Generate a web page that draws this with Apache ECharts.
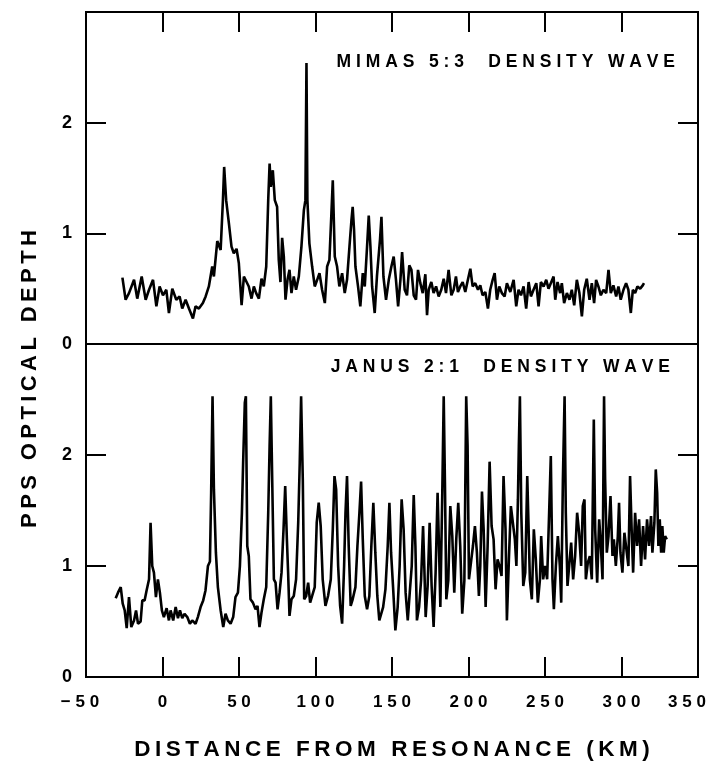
<!DOCTYPE html>
<html><head><meta charset="utf-8">
<script src="https://cdn.jsdelivr.net/npm/echarts@6/dist/echarts.min.js"></script>
<style>html,body{margin:0;padding:0;background:#fff}#c{width:715px;height:762px}</style>
</head><body><div id="c"></div>
<script>
// ---- data (km from resonance, PPS optical depth) ----
const mimasKm = [-26.2,-24.1,-21.9,-18.6,-16.5,-13.6,-11.0,-8.8,-6.2,-4.0,-1.9,0.3,2.5,4.2,6.4,9.0,11.2,12.9,15.1,17.3,19.9,21.6,23.8,26.4,28.2,30.3,32.5,33.6,35.8,38.0,39.5,40.3,41.6,43.4,45.1,46.6,48.4,49.9,51.7,53.2,56.4,58.2,59.7,61.2,63.0,64.7,66.2,67.8,69.1,70.0,70.8,72.1,73.4,74.9,76.0,77.1,78.2,79.3,80.4,81.7,83.0,84.3,85.8,87.3,89.1,90.8,92.4,93.4,94.1,94.7,96.0,97.8,99.5,101.1,102.6,104.3,106.1,107.6,109.1,110.4,111.3,112.6,114.1,115.6,117.4,119.1,120.6,122.2,123.5,124.3,125.2,126.1,127.8,129.3,130.9,132.2,133.7,134.8,135.9,137.0,138.7,140.2,142.2,143.1,144.4,146.1,147.9,149.6,151.1,152.6,154.0,155.5,156.6,158.3,159.8,161.3,162.7,164.2,165.7,167.0,168.5,170.1,171.8,172.9,174.0,175.7,177.2,178.8,180.5,182.2,183.8,185.3,187.0,188.8,190.3,191.8,193.1,194.6,196.2,197.9,199.6,201.2,202.7,204.4,206.2,207.7,209.2,211.0,212.7,214.2,215.8,217.1,218.6,220.1,221.8,223.6,225.1,227.3,229.5,231.2,232.7,234.3,236.0,237.7,239.3,240.8,242.5,244.3,245.8,247.3,249.1,250.8,252.3,253.8,255.6,256.7,258.2,259.9,261.0,262.5,264.3,266.0,267.5,269.1,270.8,272.5,274.1,275.6,277.3,279.1,280.6,282.1,283.4,284.9,286.5,288.2,290.0,291.5,293.0,294.7,296.5,298.0,299.5,301.3,303.0,304.5,306.1,307.4,308.9,310.4,312.2,313.9,314.7];
const mimasTau = [0.60,0.40,0.46,0.58,0.41,0.61,0.40,0.49,0.58,0.34,0.52,0.44,0.49,0.28,0.50,0.40,0.43,0.32,0.40,0.32,0.23,0.34,0.32,0.37,0.43,0.52,0.70,0.61,0.93,0.85,1.30,1.60,1.30,1.09,0.88,0.82,0.86,0.73,0.35,0.61,0.52,0.41,0.52,0.46,0.41,0.59,0.52,0.70,1.30,1.63,1.42,1.57,1.30,1.24,0.76,0.56,0.96,0.79,0.40,0.58,0.67,0.46,0.61,0.49,0.61,0.88,1.21,1.30,2.54,1.30,0.91,0.70,0.52,0.58,0.64,0.49,0.37,0.70,0.76,1.18,1.48,0.79,0.70,0.52,0.64,0.46,0.58,0.88,1.12,1.24,1.03,0.70,0.52,0.34,0.64,0.52,0.88,1.16,0.88,0.52,0.28,0.62,0.95,1.15,0.61,0.40,0.58,0.70,0.79,0.58,0.34,0.58,0.83,0.49,0.44,0.71,0.67,0.44,0.40,0.67,0.55,0.46,0.63,0.26,0.49,0.56,0.46,0.52,0.43,0.49,0.59,0.46,0.67,0.44,0.49,0.61,0.47,0.52,0.56,0.47,0.58,0.68,0.52,0.55,0.49,0.53,0.44,0.47,0.32,0.49,0.58,0.64,0.40,0.52,0.46,0.43,0.55,0.47,0.58,0.34,0.49,0.44,0.52,0.32,0.56,0.43,0.49,0.55,0.34,0.56,0.52,0.58,0.50,0.55,0.61,0.40,0.56,0.46,0.55,0.37,0.46,0.40,0.49,0.35,0.58,0.46,0.25,0.49,0.59,0.40,0.55,0.37,0.58,0.52,0.44,0.49,0.46,0.67,0.46,0.53,0.43,0.52,0.40,0.49,0.55,0.49,0.28,0.49,0.46,0.52,0.50,0.53,0.55];

const janusKm = [-30.6,-29.1,-27.3,-26.0,-24.7,-23.4,-21.9,-20.4,-18.6,-17.3,-16.0,-14.3,-13.2,-11.7,-10.4,-8.8,-7.8,-6.7,-5.6,-4.3,-3.0,-1.7,-0.4,0.9,2.7,4.2,5.3,7.0,8.6,10.1,11.4,12.9,14.4,16.2,17.9,19.4,21.6,23.1,24.9,26.6,28.1,29.7,31.0,31.8,32.7,33.6,34.9,36.2,38.0,39.7,41.2,42.7,44.5,46.2,47.7,49.3,50.6,51.9,52.7,53.8,54.5,55.4,56.4,57.5,59.1,60.8,62.1,63.4,64.7,66.2,67.8,69.1,70.0,70.8,71.7,72.8,73.9,75.2,76.5,77.8,79.1,80.2,81.3,82.1,83.0,84.3,85.8,87.3,88.7,89.7,90.6,91.7,92.6,93.9,95.2,96.5,97.8,99.5,100.8,102.1,103.4,104.7,106.5,108.2,110.0,111.3,112.4,113.5,114.8,116.1,117.4,118.7,119.6,120.6,121.7,123.0,124.3,126.1,127.4,128.7,129.8,130.9,132.2,133.7,135.2,136.5,137.8,139.1,140.4,141.7,144.2,145.7,147.2,148.3,149.4,150.7,152.2,153.7,155.0,156.3,157.6,158.9,160.3,161.6,162.9,164.2,165.3,166.3,167.7,169.0,170.3,171.1,172.0,173.3,174.6,175.9,177.2,178.5,179.8,180.7,181.6,182.9,183.8,184.6,185.5,186.8,188.1,189.4,190.7,192.0,193.3,194.6,195.9,197.3,198.5,199.4,200.3,201.6,202.9,204.2,205.5,206.8,207.7,208.8,209.9,211.2,212.5,213.8,215.1,216.4,217.7,219.0,220.3,221.6,222.9,224.2,225.1,226.4,227.7,229.0,230.3,231.3,232.3,232.9,233.6,234.5,235.8,237.1,238.4,239.3,240.1,241.4,242.7,244.0,245.3,246.7,247.5,248.8,250.1,251.4,252.7,253.8,254.9,255.8,257.1,258.4,259.7,260.6,261.7,262.8,263.6,264.7,265.8,267.1,268.4,269.7,271.0,272.3,273.6,274.7,275.8,276.7,278.0,279.3,280.6,281.9,282.8,284.1,285.4,286.3,287.6,288.6,289.3,290.4,291.5,292.8,294.1,295.0,296.3,297.6,298.4,299.3,300.6,301.9,303.2,304.5,305.6,306.7,307.6,308.9,310.2,311.5,312.8,314.1,315.4,316.7,318.0,319.3,320.2,321.5,322.4,323.3,324.1,325.0,325.9,326.7,327.6,328.5,329.6];
const janusTau = [0.71,0.76,0.81,0.66,0.60,0.44,0.72,0.45,0.51,0.60,0.48,0.50,0.69,0.69,0.78,0.88,1.39,1.00,0.94,0.72,0.88,0.76,0.60,0.54,0.62,0.51,0.60,0.51,0.63,0.53,0.60,0.53,0.57,0.54,0.48,0.51,0.48,0.54,0.63,0.69,0.78,1.00,1.04,1.66,2.53,1.69,1.12,0.81,0.60,0.45,0.57,0.51,0.48,0.54,0.72,0.76,1.00,1.48,1.93,2.47,2.53,1.18,1.09,0.70,0.67,0.61,0.64,0.45,0.58,0.70,0.81,1.48,2.08,2.53,1.78,0.88,0.85,0.61,0.76,0.94,1.33,1.72,1.24,0.94,0.55,0.70,0.73,0.88,1.39,1.93,2.53,1.78,0.70,0.73,0.85,0.67,0.73,0.81,1.39,1.57,1.36,0.88,0.64,0.73,0.88,1.33,1.81,1.69,1.00,0.64,0.48,1.00,1.48,1.81,1.18,0.64,0.70,0.81,1.18,1.48,1.76,1.24,0.73,0.61,0.73,1.18,1.57,1.12,0.73,0.51,0.63,0.79,1.18,1.57,1.12,0.81,0.42,0.63,1.00,1.60,1.33,0.76,0.51,0.76,1.00,1.64,1.18,0.51,0.63,0.87,1.36,1.00,0.54,0.82,1.39,0.82,0.45,0.94,1.66,1.18,0.63,1.69,2.53,1.75,0.70,0.87,1.54,1.27,0.76,1.24,1.57,1.18,0.57,0.87,2.53,2.08,0.88,1.03,1.18,1.36,1.12,0.73,1.00,1.67,1.33,0.63,1.18,1.94,1.36,1.24,0.79,1.06,1.00,0.91,1.81,1.33,0.51,1.06,1.54,1.54,1.24,1.00,1.60,2.08,2.53,1.48,0.82,0.94,1.81,1.33,0.88,0.70,1.33,1.06,0.67,0.88,1.27,0.88,1.00,0.88,1.48,1.99,0.88,0.61,1.00,1.27,1.00,0.67,1.78,2.53,1.48,0.82,1.00,1.21,0.88,1.09,1.48,1.30,1.00,1.54,1.60,0.88,1.03,1.09,0.88,2.32,1.33,0.85,1.42,1.24,0.88,2.53,1.78,1.12,1.27,1.63,1.09,1.24,1.00,1.27,1.57,1.12,0.94,1.30,1.15,1.00,1.81,1.30,0.94,1.48,1.18,1.42,1.00,1.36,1.06,1.42,1.18,1.45,1.12,1.39,1.87,1.66,1.18,1.42,1.12,1.36,1.12,1.27,1.24];

const xTickValues = [-50,0,50,100,150,200,250,300,350];
const xTickLabels = ['\u221250','0','50','100','150','200','250','300','350'];
const yTickValues = [0,1,2,3];
const yTickLabels = ['0','1','2',''];
const panelTitles = ['MIMAS 5:3  DENSITY WAVE','JANUS 2:1  DENSITY WAVE'];
const xTitle = 'DISTANCE FROM RESONANCE (KM)';
const yTitle = 'PPS OPTICAL DEPTH';

// ---- helpers ----
const FONT = "'Liberation Sans', Arial, Helvetica, sans-serif";
const wide = s => s.split('').join(' ');
const thin = s => s.split('').join('\u2009');
const zip = (a, b) => a.map((v, i) => [v, b[i]]);
const xFmt = v => {
  const i = xTickValues.indexOf(v);
  if (i < 0) return '';
  const t = wide(xTickLabels[i]);
  if (i === 0) return '{first|' + t + '}';
  if (i === xTickValues.length - 1) return '{last|' + t + '}';
  return t;
};
const yFmt = v => { const i = yTickValues.indexOf(v); return i < 0 ? '' : yTickLabels[i]; };

const tickStyle = { show: true, inside: true, length: 20, lineStyle: { color: '#000', width: 2 } };
const labelStyle = { fontFamily: FONT, fontWeight: 'bold', fontSize: 17, color: '#000' };

function xAx(grid, pos, withLabels) {
  return {
    type: 'value', gridIndex: grid, position: pos, min: -50, max: 350, interval: 50,
    axisLine: { show: false, onZero: false }, splitLine: { show: false },
    axisTick: tickStyle,
    axisLabel: withLabels ? Object.assign({ show: true, margin: 17, formatter: xFmt,
      rich: {
        first: Object.assign({ padding: [0, 12, 0, 0] }, labelStyle),
        last: Object.assign({ padding: [0, 22, 0, 0] }, labelStyle)
      } }, labelStyle) : { show: false },
    name: withLabels ? thin(xTitle) : '',
    nameLocation: 'middle', nameGap: 61,
    nameTextStyle: { fontFamily: FONT, fontWeight: 'bold', fontSize: 22.5, color: '#000' }
  };
}
function yAx(grid, pos, withLabels) {
  return {
    type: 'value', gridIndex: grid, position: pos, min: 0, max: 3, interval: 1,
    axisLine: { show: false, onZero: false }, splitLine: { show: false },
    axisTick: tickStyle,
    axisLabel: withLabels ? Object.assign({}, labelStyle, { show: true, margin: 14, fontSize: 18, formatter: yFmt }) : { show: false }
  };
}

const gridBase = { left: 86, right: 17, show: true, borderColor: '#000', borderWidth: 2,
                   backgroundColor: 'transparent', containLabel: false, outerBoundsMode: 'none' };

const chart = echarts.init(document.getElementById('c'), null, { renderer: 'canvas' });
chart.setOption({
  animation: false,
  backgroundColor: '#fff',
  grid: [
    Object.assign({}, gridBase, { top: 12, height: 332 }),
    Object.assign({}, gridBase, { top: 344, height: 333 })
  ],
  xAxis: [ xAx(0, 'top', false), xAx(1, 'bottom', true) ],
  yAxis: [ yAx(0, 'left', true), yAx(0, 'right', false), yAx(1, 'left', true), yAx(1, 'right', false) ],
  series: [
    { type: 'line', name: 'Mimas 5:3', xAxisIndex: 0, yAxisIndex: 0, data: zip(mimasKm, mimasTau),
      showSymbol: false, lineStyle: { color: '#000', width: 2.6 }, z: 3 },
    { type: 'line', name: 'Janus 2:1', xAxisIndex: 1, yAxisIndex: 2, data: zip(janusKm, janusTau),
      showSymbol: false, lineStyle: { color: '#000', width: 2.6 }, z: 3 }
  ],
  graphic: [
    { type: 'text', right: 40, top: 53,
      style: { text: wide(panelTitles[0]), fontFamily: FONT, fontWeight: 'bold', fontSize: 17.5, fill: '#000' } },
    { type: 'text', right: 45, top: 358,
      style: { text: wide(panelTitles[1]), fontFamily: FONT, fontWeight: 'bold', fontSize: 17.5, fill: '#000' } },
    { type: 'text', x: 30, y: 379, rotation: Math.PI / 2,
      style: { text: thin(yTitle), fontFamily: FONT, fontWeight: 'bold', fontSize: 22, fill: '#000',
               align: 'center', verticalAlign: 'middle' } }
  ]
});
</script></body></html>
